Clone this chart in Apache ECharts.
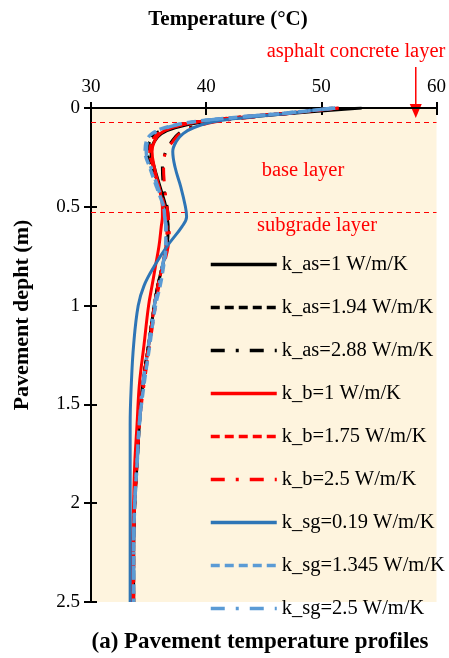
<!DOCTYPE html>
<html><head><meta charset="utf-8">
<script src="https://cdn.jsdelivr.net/npm/echarts@6/dist/echarts.min.js"></script>
<style>html,body{margin:0;padding:0;background:#fff}#c{width:449px;height:658px}</style>
</head><body><div id="c"></div>
<script>
// Depths (m)
const depths = [0, 0.025, 0.045, 0.07, 0.1, 0.13, 0.17, 0.22, 0.3, 0.4, 0.5, 0.55, 0.6, 0.7, 0.8, 0.9, 1.0, 1.2, 1.4, 1.6, 1.8, 2.0, 2.25, 2.5];
// Temperatures (°C)
const kas1    = [53.5, 47.8, 43.8, 39.8, 37.3, 36.1, 35.5, 35.2, 35.5, 36.0, 36.5, 36.6, 36.7, 36.6, 36.2, 35.8, 35.5, 35.0, 34.5, 34.2, 34.0, 33.8, 33.7, 33.7];
const kas194  = [51.5, 47.2, 43.2, 39.2, 36.8, 35.6, 35.1, 34.9, 35.3, 35.9, 36.4, 36.5, 36.6, 36.5, 36.2, 35.8, 35.5, 35.0, 34.5, 34.2, 34.0, 33.8, 33.7, 33.7];
const kas288  = [51.0, 47.5, 44.0, 40.5, 38.6, 37.6, 37.0, 36.5, 36.2, 36.3, 36.6, 36.7, 36.7, 36.6, 36.2, 35.8, 35.5, 35.0, 34.5, 34.2, 34.0, 33.8, 33.7, 33.7];
const kb1     = [51.5, 47.3, 43.3, 39.3, 37.0, 36.0, 35.5, 35.3, 35.5, 35.9, 36.2, 36.2, 36.1, 35.9, 35.6, 35.3, 35.0, 34.6, 34.2, 34.0, 33.8, 33.7, 33.6, 33.6];
const kb175   = [51.5, 47.2, 43.2, 39.3, 36.9, 35.8, 35.3, 35.1, 35.4, 35.9, 36.4, 36.5, 36.6, 36.5, 36.2, 35.8, 35.5, 35.0, 34.5, 34.2, 34.0, 33.8, 33.7, 33.7];
const kb25    = [51.0, 47.6, 44.2, 40.8, 38.8, 37.7, 37.1, 36.5, 36.3, 36.4, 36.6, 36.7, 36.8, 36.7, 36.3, 35.9, 35.6, 35.1, 34.6, 34.2, 34.0, 33.8, 33.7, 33.7];
const ksg019  = [50.8, 47.5, 44.0, 40.6, 38.9, 38.0, 37.4, 37.1, 37.3, 37.8, 38.2, 38.3, 37.9, 36.6, 35.5, 34.6, 34.1, 33.7, 33.5, 33.4, 33.4, 33.4, 33.4, 33.4];
const ksg1345 = [51.2, 47.0, 43.0, 38.9, 36.4, 35.3, 34.8, 34.7, 35.1, 35.7, 36.3, 36.4, 36.5, 36.5, 36.3, 36.0, 35.6, 35.1, 34.6, 34.2, 34.0, 33.8, 33.7, 33.7];
const ksg25   = [51.2, 47.0, 43.0, 38.9, 36.5, 35.4, 34.9, 34.8, 35.2, 35.8, 36.3, 36.4, 36.5, 36.5, 36.2, 35.9, 35.5, 35.0, 34.5, 34.2, 34.0, 33.8, 33.7, 33.7];
const names = ['k_as=1 W/m/K','k_as=1.94 W/m/K','k_as=2.88 W/m/K','k_b=1 W/m/K','k_b=1.75 W/m/K','k_b=2.5 W/m/K','k_sg=0.19 W/m/K','k_sg=1.345 W/m/K','k_sg=2.5 W/m/K'];
const values = [kas1, kas194, kas288, kb1, kb175, kb25, ksg019, ksg1345, ksg25];
const layerDepths = [0.075, 0.53];
const xTicks = {min: 30, max: 60, interval: 10};
const yTicks = {min: 0, max: 2.5, interval: 0.5};

const colors = ['#000000','#000000','#000000','#FF0000','#FF0000','#FF0000','#2E75B6','#5B9BD5','#5B9BD5'];
const DASH = [9, 5];
const DASHDOT = [14, 11, 3, 11];
const types = ['solid', DASH, DASHDOT, 'solid', DASH, DASHDOT, 'solid', DASH, DASHDOT];
const widths = [3, 3, 3, 3, 3, 3, 3, 3.5, 3.5];
const FONT = '"Liberation Serif", "Times New Roman", serif';

const series = names.map((n, i) => ({
  name: n, type: 'line', smooth: 0.4, symbol: 'none',
  data: depths.map((d, j) => [values[i][j], d]),
  lineStyle: {color: colors[i], width: widths[i], type: types[i]},
  itemStyle: {color: colors[i]},
  z: 3 + i
}));
series[0].markLine = {
  silent: true, symbol: 'none', label: {show: false},
  lineStyle: {color: '#FF0000', type: [5, 4], width: 1},
  data: layerDepths.map(v => ({yAxis: v}))
};

const chart = echarts.init(document.getElementById('c'), null, {renderer: 'canvas'});
const axisCommon = {
  axisLine: {show: true, lineStyle: {color: '#000', width: 2}},
  splitLine: {show: false}
};
chart.setOption({
  animation: false,
  backgroundColor: '#fff',
  grid: {left: 91, right: 11, top: 108, bottom: 56, show: true, backgroundColor: '#FEF4DE', borderWidth: 0},
  xAxis: [
    Object.assign({type: 'value', position: 'top', min: xTicks.min, max: xTicks.max, interval: xTicks.interval,
      axisTick: {show: true, length: 6, lineStyle: {color: '#000', width: 2}},
      axisLabel: {fontFamily: FONT, fontSize: 19, color: '#000', margin: 11}}, axisCommon),
    {type: 'value', position: 'top', min: xTicks.min, max: xTicks.max, interval: xTicks.interval,
      axisLine: {show: false}, splitLine: {show: false}, axisLabel: {show: false},
      axisTick: {show: true, inside: true, length: 7, lineStyle: {color: '#000', width: 2}}}
  ],
  yAxis: [
    Object.assign({type: 'value', inverse: true, min: yTicks.min, max: yTicks.max, interval: yTicks.interval,
      axisTick: {show: true, length: 7, lineStyle: {color: '#000', width: 2}},
      axisLabel: {fontFamily: FONT, fontSize: 19, color: '#000', margin: 11}}, axisCommon),
    {type: 'value', inverse: true, min: yTicks.min, max: yTicks.max, interval: yTicks.interval, position: 'left',
      axisLine: {show: false}, splitLine: {show: false}, axisLabel: {show: false},
      axisTick: {show: true, inside: true, length: 6, lineStyle: {color: '#000', width: 2}}}
  ],
  legend: {
    orient: 'vertical', left: 204, top: 249, itemWidth: 66, itemHeight: 14, itemGap: 22,
    itemStyle: {opacity: 0},
    lineStyle: {width: 3.5},
    textStyle: {fontFamily: FONT, fontSize: 20.5, lineHeight: 21, color: '#000'},
    data: names
  },
  series: series
});

function draw() {
  const arrowTop = chart.convertToPixel({xAxisIndex: 0, yAxisIndex: 0}, [58.2, 0]);
  const x = arrowTop[0];
  chart.setOption({graphic: [
    {type: 'text', x: 228, y: 20, style: {text: 'Temperature (°C)', font: 'bold 21px ' + FONT, fill: '#000', align: 'center', verticalAlign: 'middle'}},
    {type: 'text', x: 22, y: 315, rotation: Math.PI / 2, style: {text: 'Pavement depht (m)', font: 'bold 22px ' + FONT, fill: '#000', align: 'center', verticalAlign: 'middle'}},
    {type: 'text', x: 356, y: 52, style: {text: 'asphalt concrete layer', font: '20.5px ' + FONT, fill: '#FF0000', align: 'center', verticalAlign: 'middle'}},
    {type: 'line', shape: {x1: x, y1: 67, x2: x, y2: 106}, style: {stroke: '#FF0000', lineWidth: 1.5}},
    {type: 'polygon', shape: {points: [[x - 6, 104], [x + 6, 104], [x, 118]]}, style: {fill: '#FF0000'}},
    {type: 'text', x: 303, y: 171, style: {text: 'base layer', font: '20.5px ' + FONT, fill: '#FF0000', align: 'center', verticalAlign: 'middle'}},
    {type: 'text', x: 317, y: 226, style: {text: 'subgrade layer', font: '20.5px ' + FONT, fill: '#FF0000', align: 'center', verticalAlign: 'middle'}},
    {type: 'text', x: 260, y: 642, style: {text: '(a) Pavement temperature profiles', font: 'bold 23px ' + FONT, fill: '#000', align: 'center', verticalAlign: 'middle'}}
  ]});
}
draw();
</script></body></html>
